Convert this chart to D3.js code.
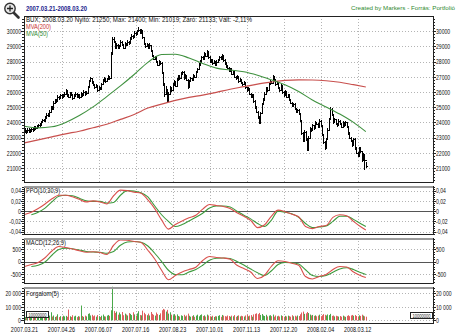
<!DOCTYPE html>
<html><head><meta charset="utf-8">
<script src="https://cdn.jsdelivr.net/npm/d3@7"></script>
<style>body{margin:0;background:#fff}svg{display:block}text{font-family:"Liberation Sans",Arial,sans-serif}</style>
</head><body><svg id="c" width="458" height="335"></svg>
<script>
// ---------- DATA ----------
const xLabels = ["2007.03.21","2007.04.26","2007.06.07","2007.07.16","2007.08.23","2007.10.01","2007.11.13","2007.12.20","2008.02.04","2008.03.12"];
const xLabelIdx = [0,27,54,81,108,135,162,189,216,243];

const closes = [23450,23350,23500,23400,23450,23550,23500,23650,23600,23700,
23800,23850,24000,24150,24100,24300,24500,24450,24700,25000,
24900,25300,25450,25400,25700,25600,25800,25650,25750,25900,
26100,25800,25700,25900,25850,25600,25750,25900,25700,25800,
25650,25900,25800,26000,25850,25950,26300,26700,26900,26600,
26500,26300,26400,26100,26300,26200,26500,26750,26900,26700,
26850,27000,26900,28500,29500,29300,28900,29100,28950,29000,
29300,29100,28900,29200,29100,29300,29200,29500,29700,29600,
29900,29800,30000,30100,29900,30050,29600,29200,29000,29100,
28900,29100,28700,28400,28200,28300,28000,27800,28000,27900,
27300,26600,25900,26200,25400,25900,26300,26100,26500,26700,
26400,26800,27000,26900,27200,27300,26900,27100,26800,26300,
26700,26900,26800,27100,27000,27300,27500,27800,28000,28300,
28200,28500,28400,28650,28300,28000,28100,27900,28000,27800,
28000,28100,28300,28200,28400,28100,27900,27700,27600,27400,
27500,27200,27300,27000,26900,27000,26700,26800,26600,26500,
26600,26300,26100,26200,25900,25700,25800,25400,25000,24700,
24400,23950,24600,25200,25500,25900,26200,26100,26500,26700,
26600,27000,26800,26500,26600,26300,26100,26400,26000,25800,
26000,25700,25800,25500,25300,25100,25200,24900,24700,24800,
24600,24100,23300,22800,23400,22900,22200,23000,23600,23500,
23800,23600,24000,23900,23700,24100,23800,23200,22700,22300,
22900,23500,24200,24900,24500,24000,24200,23900,23800,24100,
23900,23700,24000,23800,24000,23700,23300,23000,22800,22500,
22900,22300,22000,21800,22300,22100,21500,21900,21500,21133];

const highs = [23600,23500,23600,23600,23550,23650,23650,23750,23750,23800,
23900,23950,24100,24250,24250,24400,24600,24600,24800,25100,
25100,25400,25550,25550,25800,25750,25900,25850,25850,26000,
26200,26100,25850,26000,26000,25900,25850,26000,25950,25900,
25850,26000,25950,26100,26050,26050,26400,26800,27000,26950,
26700,26550,26500,26450,26400,26350,26600,26850,27000,26950,
26950,27100,27050,28600,29650,29600,29350,29200,29150,29100,
29400,29350,29150,29300,29250,29400,29350,29600,29800,29750,
30000,29950,30100,30250,30150,30150,30050,29650,29250,29200,
29150,29200,29100,28750,28450,28400,28350,28050,28100,28050,
27950,27300,26600,26400,26200,26000,26400,26350,26600,26800,
26750,26900,27100,27100,27300,27400,27350,27200,27150,26850,
26800,27000,26950,27200,27150,27400,27600,27900,28100,28400,
28400,28600,28550,28750,28700,28350,28200,28150,28100,28050,
28100,28200,28400,28350,28500,28450,28150,27950,27750,27650,
27600,27550,27400,27350,27050,27100,27050,26900,26850,26650,
26700,26650,26350,26300,26250,25950,25900,25850,25450,25050,
24750,24450,24700,25300,25600,26000,26300,26300,26600,26800,
26750,27100,27050,26850,26700,26650,26350,26500,26450,26050,
26100,26050,25900,25850,25550,25350,25300,25250,24950,24900,
24850,24650,24150,23350,23500,23450,22950,23100,23700,23650,
23900,23850,24100,24050,23950,24200,24150,23850,23250,22750,
23000,23600,24300,25000,24950,24550,24300,24250,23950,24200,
24150,23950,24100,24050,24100,24050,23750,23350,23050,22850,
23000,22950,22350,22050,22400,22350,22150,22000,21950,21400];

const lows = [23300,23250,23300,23300,23350,23400,23400,23450,23500,23550,
23650,23700,23800,23950,24000,24050,24250,24350,24400,24650,
24800,24850,25250,25300,25350,25500,25550,25550,25600,25700,
25850,25700,25600,25650,25750,25500,25550,25700,25600,25650,
25550,25600,25700,25750,25750,25800,25900,26250,26650,26500,
26400,26200,26250,26000,26050,26100,26150,26450,26700,26600,
26650,26800,26800,26900,28500,29200,28800,28850,28850,28850,
28950,29000,28800,28850,29000,29050,29100,29150,29450,29500,
29550,29700,29750,29950,29800,29850,29500,29100,28900,28950,
28800,28850,28600,28300,28100,28150,27900,27700,27750,27800,
27200,26400,25700,25800,25250,25350,25850,26000,26050,26400,
26300,26350,26750,26800,26850,27100,26800,26850,26700,26200,
26250,26650,26700,26750,26900,26950,27250,27450,27750,27950,
28100,28150,28300,28350,28200,27900,27950,27800,27850,27700,
27750,27950,28050,28100,28150,28000,27800,27600,27500,27300,
27350,27100,27150,26900,26800,26850,26600,26650,26500,26400,
26450,26200,26000,26050,25800,25600,25650,25300,24900,24600,
24250,23900,23950,24550,25150,25450,25850,26000,26050,26450,
26500,26550,26700,26400,26450,26200,26000,26050,25900,25700,
25750,25600,25650,25400,25200,25000,25050,24800,24600,24650,
24500,24000,23200,22700,22750,22800,22150,22200,22950,23400,
23450,23500,23550,23800,23600,23650,23700,23100,22600,22200,
22250,22850,23450,24150,24400,23900,23950,23800,23700,23750,
23800,23600,23650,23700,23750,23600,23200,22900,22700,22400,
22450,22200,21900,21700,21750,22000,21400,21450,20900,21019];

const volumes = [2500,3100,2200,2800,3400,2000,2600,3000,2300,2700,
3200,2400,3800,2900,2100,3300,4200,2600,3500,6000,
2800,3600,2500,3000,4500,2400,3100,2700,3400,2900,
3300,2600,8000,3000,2500,3800,2900,3400,2400,3100,
2800,11000,3200,2600,3500,2900,4800,5200,3600,4100,
3000,3600,2700,3900,3100,2500,3400,4300,3000,2800,
3500,4000,3300,7500,25000,7000,5500,6500,4200,5800,
4500,6200,3800,5000,4300,3600,5400,4800,3900,6000,
4400,3500,5200,6800,4000,3700,7200,5600,4500,3800,
5000,3600,6200,4800,4100,3500,5800,4600,4000,5200,
7500,8500,8000,6500,7800,5000,6000,4200,3800,4600,
3500,4400,3200,2800,3700,3300,4100,2900,3600,5000,
3400,2700,3100,3800,2600,3500,4200,3000,3900,4400,
3200,3700,2800,4300,3600,3000,2700,3400,2500,3100,
2900,3300,3800,2600,4000,3500,3100,2800,3600,3200,
2700,3500,3000,3900,2600,3300,3700,2900,3400,3100,
2800,3600,4200,3000,3500,3900,2700,4400,4800,5200,
4600,5500,4000,4700,3600,3200,4100,2900,3500,3800,
3100,4300,2700,3600,3000,3400,2800,3700,3200,2600,
3300,2900,3500,3100,2700,3800,3000,3400,2800,3600,
3200,4500,5800,6500,4800,5200,6200,5400,4300,3600,
4000,3300,3700,3000,3500,4200,3100,3800,4600,4100,
3600,4400,3900,4800,3300,3600,2900,3400,3100,2800,
3200,2700,3500,3000,2600,3300,3800,3100,3600,4000,
3400,3900,3200,2900,3700,3300,4200,3500,3000,2700];

// moving averages read every 10 bars
const mvaIdx = [0,10,20,30,40,50,60,70,80,90,100,110,120,130,140,150,160,170,180,190,200,210,220,230,240,249];
const mva200 = [22650,22850,23050,23250,23420,23650,23880,24200,24520,24950,25200,25450,25650,25800,25980,26180,26350,26520,26650,26760,26800,26790,26740,26640,26480,26330];
const mva50 = [23750,23640,23710,24000,24450,25020,25700,26400,27150,27950,28470,28480,28240,27880,27570,27450,27330,27100,26800,26470,26030,25480,25020,24550,24000,23390];

// oscillators read every 5 bars
const oscIdx = [0,5,10,15,20,25,30,35,40,45,50,55,60,65,70,75,80,85,90,95,100,105,110,115,120,125,130,135,140,145,150,155,160,165,170,175,180,185,190,195,200,205,210,215,220,225,230,235,240,245,249];
const ppo = [-0.0065,-0.002,0.005,0.014,0.024,0.031,0.031,0.028,0.023,0.018,0.020,0.018,0.014,0.030,0.041,0.040,0.037,0.035,0.022,0.005,-0.017,-0.035,-0.026,-0.019,-0.013,-0.008,0.004,0.013,0.011,0.009,0.005,-0.003,-0.010,-0.018,-0.032,-0.027,-0.010,0.002,-0.001,-0.006,-0.011,-0.030,-0.034,-0.030,-0.028,-0.012,-0.007,-0.009,-0.020,-0.030,-0.0368];
const ppoSignal = [null,-0.007,-0.002,0.006,0.018,0.029,0.031,0.030,0.025,0.020,0.019,0.019,0.016,0.017,0.031,0.040,0.039,0.036,0.028,0.010,-0.007,-0.020,-0.030,-0.026,-0.019,-0.012,-0.004,0.006,0.010,0.010,0.008,0.000,-0.008,-0.015,-0.024,-0.030,-0.018,0.000,-0.002,-0.005,-0.012,-0.024,-0.032,-0.031,-0.029,-0.020,-0.010,-0.010,-0.016,-0.024,-0.030];
const macd = [-200,-120,-40,150,420,600,560,500,430,370,390,360,280,650,860,850,800,760,450,100,-350,-732,-560,-420,-320,-230,40,200,160,140,90,-150,-280,-420,-680,-560,-200,30,0,-70,-150,-600,-700,-600,-520,-320,-200,-220,-420,-560,-640];
const macdSignal = [null,-200,-150,-20,250,480,530,510,460,400,380,370,330,400,650,780,800,770,620,330,0,-350,-520,-530,-420,-320,-150,50,130,140,120,0,-140,-300,-450,-560,-380,-120,-40,-50,-100,-330,-560,-600,-560,-430,-300,-250,-320,-440,-520];

const mainTicks = [21000,22000,23000,24000,25000,26000,27000,28000,29000,30000];
const ppoTicks = [-0.04,-0.02,0,0.02,0.04];
const macdTicks = [-500,0,500];
const volTicks = [0,10000,20000];
const volTickLabels = ["0","10 000","20 000"];

// ---------- DRAWING ----------
const svg = d3.select("#c");
const L = 24, R = 433;
const x = d3.scaleLinear().domain([0, 298]).range([24.5, 433]);
const xp = i => Math.round(x(i)) + 0.5;

function squeeze(sel, f) {
  sel.each(function(){
    const w = this.getComputedTextLength();
    this.setAttribute("textLength", (w * f).toFixed(1));
    this.setAttribute("lengthAdjust", "spacingAndGlyphs");
  });
}
function fitTo(sel, w) {
  sel.attr("textLength", w).attr("lengthAdjust", "spacingAndGlyphs");
}
const SQ = 0.75;

function panel(top, bottom, yScale, ticks, fmt, minorTicks, zeroLine, grayTop) {
  const g = svg.append("g");
  g.selectAll(null).data(ticks.filter(t => !(zeroLine && t === 0)))
    .join("line")
    .attr("x1", L).attr("x2", R)
    .attr("y1", d => Math.round(yScale(d)) + 0.5).attr("y2", d => Math.round(yScale(d)) + 0.5)
    .attr("stroke", "#b4b4b4").attr("stroke-dasharray", "1,2");
  g.selectAll(null).data(xLabelIdx.slice(1))
    .join("line")
    .attr("x1", d => xp(d)).attr("x2", d => xp(d))
    .attr("y1", top).attr("y2", bottom)
    .attr("stroke", "#b4b4b4").attr("stroke-dasharray", "1,2");
  if (zeroLine) {
    g.append("line").attr("x1", L).attr("x2", R)
      .attr("y1", Math.round(yScale(0)) + 0.5).attr("y2", Math.round(yScale(0)) + 0.5)
      .attr("stroke", "#555").attr("stroke-width", 1);
  }
  const left = g.append("g").attr("transform", `translate(${L},0)`)
    .call(d3.axisLeft(yScale).tickValues(ticks).tickSize(3).tickPadding(0).tickFormat(fmt));
  const right = g.append("g").attr("transform", `translate(${R},0)`)
    .call(d3.axisRight(yScale).tickValues(ticks).tickSize(3).tickPadding(0).tickFormat(fmt));
  const lm = g.append("g").attr("transform", `translate(${L},0)`)
    .call(d3.axisLeft(yScale).tickValues(minorTicks).tickSize(2).tickFormat(""));
  const rm = g.append("g").attr("transform", `translate(${R},0)`)
    .call(d3.axisRight(yScale).tickValues(minorTicks).tickSize(2).tickFormat(""));
  [left, right, lm, rm].forEach(a => {
    a.select(".domain").remove();
    a.selectAll("line").attr("stroke", "#222").attr("shape-rendering", "crispEdges");
    a.selectAll("text").attr("font-size", 7).attr("fill", "#111")
      .attr("font-family", '"Liberation Sans",Arial,sans-serif');
  });
  squeeze(left.selectAll("text"), 0.73);
  squeeze(right.selectAll("text"), 0.73);
  const data = g.append("g");
  g.append("rect").attr("x", L).attr("y", top).attr("width", R - L).attr("height", bottom - top)
    .attr("fill", "none").attr("stroke", "#222").attr("shape-rendering", "crispEdges");
  if (grayTop) {
    g.append("rect").attr("x", L).attr("y", top).attr("width", R - L).attr("height", 2)
      .attr("fill", "#9a9a9a");
  }
  return data;
}

const yMain = d3.scaleLinear().domain([20080, 31000]).range([182, 16]);
const mainG = panel(16, 182, yMain, mainTicks, d => d, d3.range(20200, 31000, 200), false, false);
const yPpo = d3.scaleLinear().domain([-0.0445, 0.049]).range([234, 186]);
const ppoG = panel(186, 234, yPpo, ppoTicks, d => d === 0 ? "0" : d.toFixed(2).replace(".", ","), d3.range(-0.044, 0.049, 0.004), true, true);
const yMacd = d3.scaleLinear().domain([-860, 940]).range([283, 238]);
const macdG = panel(238, 283, yMacd, macdTicks, d => d, d3.range(-800, 940, 100), true, true);
const yVol = d3.scaleLinear().domain([-2000, 24800]).range([323, 287]);
const volG = panel(287, 323, yVol, volTicks, (d, i) => volTickLabels[i], d3.range(0, 24800, 2000), false, true);

// price OHLC bars (open tick = previous close)
const bars = mainG.append("g").attr("stroke", "#000").attr("stroke-width", 1).attr("shape-rendering", "crispEdges");
bars.selectAll(null).data(closes).join("line")
  .attr("x1", (d, i) => xp(i)).attr("x2", (d, i) => xp(i))
  .attr("y1", (d, i) => yMain(highs[i])).attr("y2", (d, i) => yMain(lows[i]));
bars.selectAll(null).data(closes).join("line")
  .attr("x1", (d, i) => xp(i) - 0.5).attr("x2", (d, i) => xp(i) + 1.5)
  .attr("y1", d => Math.round(yMain(d)) + 0.5).attr("y2", d => Math.round(yMain(d)) + 0.5);
bars.selectAll(null).data(closes.slice(1)).join("line")
  .attr("x1", (d, k) => xp(k + 1) - 1.5).attr("x2", (d, k) => xp(k + 1) + 0.5)
  .attr("y1", (d, k) => Math.round(yMain(closes[k])) + 0.5).attr("y2", (d, k) => Math.round(yMain(closes[k])) + 0.5);

const lineMva = arr => d3.line().x((d, k) => x(mvaIdx[k])).y(d => yMain(d)).curve(d3.curveMonotoneX)(arr);
mainG.append("path").attr("d", lineMva(mva200)).attr("fill", "none").attr("stroke", "#c8504e").attr("stroke-width", 1.2);
mainG.append("path").attr("d", lineMva(mva50)).attr("fill", "none").attr("stroke", "#3f913f").attr("stroke-width", 1.1);

function oscLine(g, y, arr, color) {
  const ln = d3.line().defined(d => d !== null).x((d, k) => x(oscIdx[k])).y(d => y(d)).curve(d3.curveMonotoneX);
  g.append("path").attr("d", ln(arr)).attr("fill", "none").attr("stroke", color).attr("stroke-width", 1.1);
}
oscLine(ppoG, yPpo, ppoSignal, "#3c9a3c");
oscLine(ppoG, yPpo, ppo, "#d9504c");
oscLine(macdG, yMacd, macdSignal, "#3c9a3c");
oscLine(macdG, yMacd, macd, "#d9504c");

volG.selectAll(null).data(volumes).join("rect")
  .attr("x", (d, i) => Math.round(x(i)))
  .attr("width", 1)
  .attr("y", d => yVol(d))
  .attr("height", d => yVol(0) - yVol(d))
  .attr("fill", (d, i) => (i > 0 && closes[i] < closes[i - 1]) ? "#e06060" : "#4aa84a");

const xl = svg.append("g").selectAll(null).data(xLabels).join("text")
  .attr("x", (d, i) => x(xLabelIdx[i])).attr("y", 331.5)
  .attr("text-anchor", "middle").attr("font-size", 7).attr("fill", "#111")
  .text(d => d);
squeeze(xl, 0.78);

function txt(s, xx, yy, opts = {}) {
  const t = svg.append("text").attr("x", xx).attr("y", yy)
    .attr("font-size", opts.size || 7).attr("fill", opts.color || "#111")
    .attr("font-weight", opts.weight || "normal").text(s);
  if (opts.w) fitTo(t, opts.w); else squeeze(t, opts.sq || SQ);
  return t;
}
txt("2007.03.21-2008.03.20", 26, 10.5, {color: "#1a1a8c", weight: "bold", w: 61});
txt("Created by Markers - Forrás: Portfolió", 351, 9.5, {color: "#2f8a2f", w: 104, size: 5.6});
txt("BUX; 2008.03.20 Nyitó: 21250; Max: 21400; Min: 21019; Záró: 21133; Vált: -2,11%", 26, 22, {w: 226});
txt("MVA(200)", 26, 29, {color: "#c8302e", w: 25});
txt("MVA(50)", 26, 35.5, {color: "#2f8a2f", w: 22});
txt("PPO(10;30;9)", 26, 193, {w: 34});
txt("MACD(12;26;9)", 26, 244.5, {w: 40});
txt("Forgalom(5)", 26, 295.5, {w: 33});

[[26, 311], [410, 312]].forEach(([bx, by]) => {
  svg.append("rect").attr("x", bx + 0.5).attr("y", by + 0.5).attr("width", 22).attr("height", 6)
    .attr("fill", "#fff").attr("stroke", "#222");
  const t = svg.append("text").attr("x", bx + 2.5).attr("y", by + 5.6).attr("font-size", 5.5)
    .attr("fill", "#222").text("10000000");
  fitTo(t, 18);
});

const ic = svg.append("g");
ic.append("line").attr("x1", 14).attr("y1", 13).attr("x2", 18.5).attr("y2", 17.5)
  .attr("stroke", "#333").attr("stroke-width", 2.6).attr("stroke-linecap", "round");
ic.append("circle").attr("cx", 10).attr("cy", 8.5).attr("r", 5.2)
  .attr("fill", "#e8e8e8").attr("stroke", "#333").attr("stroke-width", 1.4);
ic.append("path").attr("d", "M7,8.5H13M10,5.5V11.5").attr("stroke", "#222").attr("stroke-width", 1.3);
</script>
</body></html>
